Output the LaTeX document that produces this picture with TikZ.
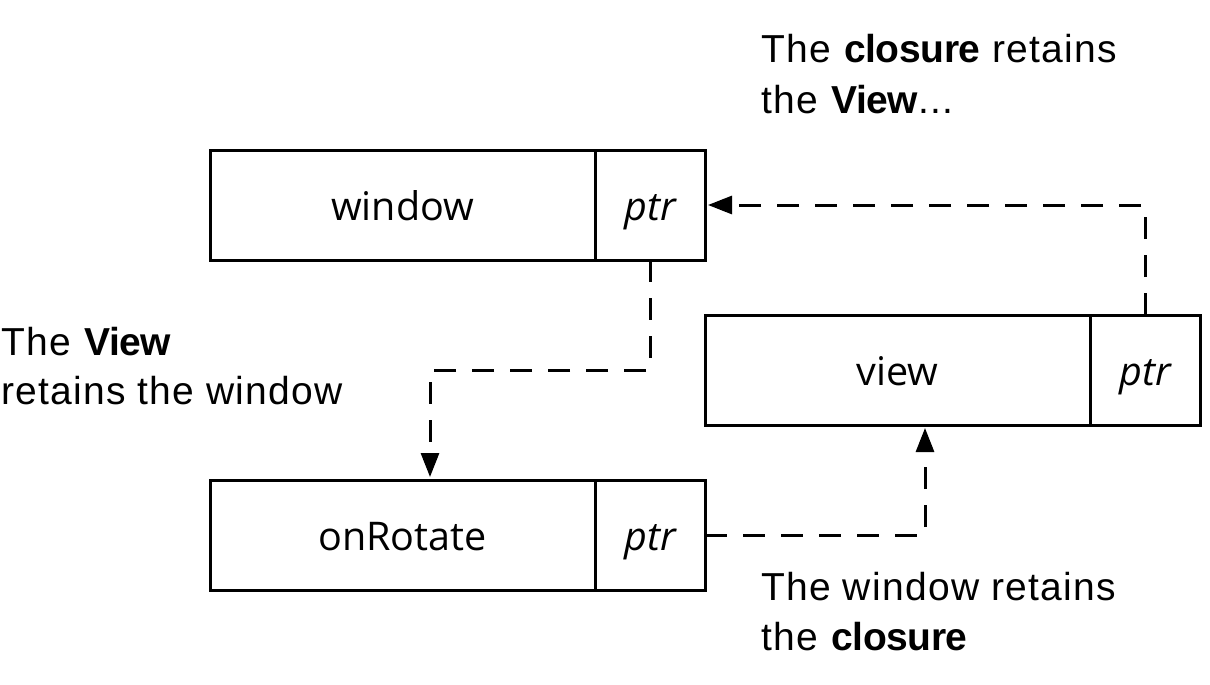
\documentclass[tikz,border=0pt]{standalone}
\usepackage{fontspec}
\setmainfont{Liberation Sans}[LetterSpace=3.2, BoldFeatures={LetterSpace=-1}]
\newfontfamily\boxfont{Open Sans}
\usetikzlibrary{arrows.meta}
\tikzset{
  cell/.style={draw, line width=3pt, rectangle, outer sep=0pt, inner sep=0pt,
    minimum height=110pt, text height=30pt, text depth=0pt,
    font=\boxfont\fontsize{39.5}{46}\selectfont},
  conn/.style={line width=3pt, dash pattern=on 22pt off 16pt,
    -{Triangle[length=24pt,width=18pt]}, shorten >=3pt},
  note/.style={anchor=base west, inner sep=0pt, font=\fontsize{39}{50}\selectfont}
}
\begin{document}
\begin{tikzpicture}[x=1pt,y=-1pt]
\useasboundingbox (0,0) rectangle (1210,685);
% boxes
\node[cell, minimum width=385pt, anchor=north west] (win) at (210,150) {window};
\node[cell, minimum width=110pt, anchor=west] (winptr) at (win.east) {\itshape ptr};
\node[cell, minimum width=385pt, anchor=north west] (view) at (705,315) {view};
\node[cell, minimum width=110pt, anchor=west] (viewptr) at (view.east) {\itshape ptr};
\node[cell, minimum width=385pt, anchor=north west] (rot) at (210,480) {onRotate};
\node[cell, minimum width=110pt, anchor=west] (rotptr) at (rot.east) {\itshape ptr};
% connectors
\draw[conn] (viewptr.north) |- (winptr.east);
\coordinate (c2) at (430,370);
\draw[conn] (winptr.south) |- (c2) -- (c2 |- rot.north);
\coordinate (c3) at (925,535);
\draw[conn] (rotptr.east) -- (c3) -- (c3 |- view.south);
% notes
\node[note] (t1a) at (761,63) {The \textbf{closure} retains};
\node[note] (t1b) at (761,113) {the \textbf{View}...};
\node[note] (t2a) at (1,355) {The \textbf{View}};
\node[note] (t2b) at (1,404) {retains the window};
\node[note] (t3a) at (761,600) {The window retains};
\node[note] (t3b) at (761,650) {the \textbf{closure}};
\end{tikzpicture}
\end{document}
